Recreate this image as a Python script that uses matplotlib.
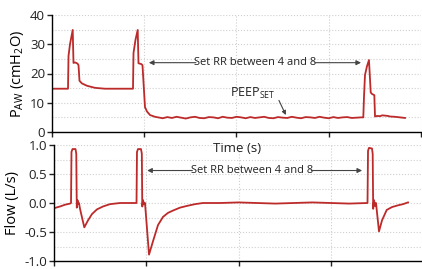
import matplotlib
matplotlib.use("Agg")
import matplotlib.pyplot as plt
from matplotlib.ticker import MultipleLocator, NullFormatter

plt.rcParams['font.family'] = ['Open Sans', 'DejaVu Sans']
plt.rcParams['mathtext.fontset'] = 'custom'
plt.rcParams['mathtext.rm'] = 'Open Sans'
plt.rcParams['mathtext.it'] = 'Open Sans'

# ---- Data ----
# Airway pressure (cmH2O) vs time (s)
p_time = [0.000, 0.347, 0.358, 0.390, 0.449, 0.466, 0.499, 0.553, 0.575, 0.596,
          0.650, 0.759, 0.932, 1.149, 1.756, 1.767, 1.810, 1.858, 1.875, 1.940,
          1.962, 2.016, 2.060, 2.125, 2.233,
          2.30, 2.40, 2.50, 2.60, 2.70, 2.80, 2.90, 3.00, 3.10, 3.20,
          3.30, 3.40, 3.50, 3.60, 3.70, 3.80, 3.90, 4.00, 4.10, 4.20,
          4.30, 4.40, 4.50, 4.60, 4.70, 4.80, 4.90, 5.00, 5.10, 5.20,
          5.30, 5.40, 5.50, 5.60, 5.70, 5.80, 5.90, 6.00, 6.10, 6.20,
          6.30, 6.40, 6.50, 6.60, 6.70,
          6.749, 6.764, 6.786, 6.829, 6.872, 6.910, 6.938, 6.988, 7.003, 7.050,
          7.111, 7.160, 7.220, 7.280, 7.328, 7.436, 7.545, 7.653]
p_vals = [14.8, 14.8, 26.0, 30.0, 34.9, 23.6, 23.8, 23.4, 22.8, 17.5,
          16.6, 15.8, 15.1, 14.8, 14.8, 27.0, 31.5, 34.9, 23.5, 23.2,
          22.8, 8.5, 7.0, 5.8, 5.2,
          5.0, 4.7, 5.1, 4.8, 5.2, 4.9, 4.6, 5.0, 5.2, 4.8,
          4.7, 5.1, 5.0, 4.7, 5.2, 4.9, 4.8, 5.2, 5.0, 4.7,
          5.1, 4.8, 5.0, 5.2, 4.8, 4.7, 5.1, 4.9, 4.8, 5.2,
          4.9, 4.7, 5.1, 5.0, 4.8, 5.2, 4.9, 4.7, 5.1, 4.8,
          5.0, 5.1, 4.8, 4.9, 5.0,
          5.0, 12.0, 19.5, 22.5, 24.6, 13.5, 13.0, 12.6, 5.3, 5.5,
          5.4, 5.7, 5.6, 5.5, 5.3, 5.2, 5.0, 4.8]

# Flow (L/s) vs time (s)
f_time = [0.000, 0.130, 0.238, 0.347, 0.369, 0.379, 0.401, 0.466, 0.483, 0.494,
          0.509, 0.527, 0.542, 0.564, 0.657, 0.737, 0.824, 0.932, 1.062, 1.214,
          1.431, 1.789, 1.799, 1.821, 1.886, 1.904, 1.914, 1.930, 1.951, 1.973,
          2.060, 2.146, 2.255, 2.363, 2.472, 2.580, 2.732, 2.883, 3.057, 3.230,
          3.60, 4.00, 4.40, 4.80, 5.20, 5.60, 6.00, 6.40, 6.797,
          6.808, 6.829, 6.894, 6.909, 6.920, 6.938, 6.959, 6.981, 7.046, 7.111,
          7.213, 7.328, 7.458, 7.566, 7.675]
f_vals = [-0.09, -0.06, -0.03, -0.01, 0.00, 0.88, 0.93, 0.93, 0.85, -0.08,
          0.05, -0.02, 0.00, -0.10, -0.42, -0.30, -0.19, -0.11, -0.06, -0.02,
          0.00, 0.00, 0.88, 0.93, 0.93, 0.85, -0.06, 0.05, -0.02, 0.00,
          -0.89, -0.66, -0.38, -0.24, -0.17, -0.13, -0.08, -0.05, -0.02, 0.00,
          0.00, 0.01, 0.00, -0.01, 0.00, 0.01, 0.00, -0.01, 0.00,
          0.90, 0.95, 0.94, 0.85, -0.10, 0.05, -0.05, 0.00, -0.49, -0.30,
          -0.12, -0.07, -0.04, -0.02, 0.01]

p_ticks = [0, 10, 20, 30, 40]
f_ticks = [-1.0, -0.5, 0.0, 0.5, 1.0]
t_ticks = [0, 2, 4, 6, 8]

annot_text = "Set RR between 4 and 8"
line_color = "#bd2a2a"
grid_color = "#cfcfcf"

W, H = 422, 269
fig = plt.figure(figsize=(W / 100, H / 100), dpi=100)

ax1 = fig.add_axes([52 / W, 1 - 132 / H, 369 / W, 117 / H])
ax2 = fig.add_axes([54 / W, 1 - 261 / H, 369 / W, 116 / H])

for ax in (ax1, ax2):
    ax.set_xlim(0, 8)
    ax.set_xticks(t_ticks)
    ax.xaxis.set_major_formatter(NullFormatter())
    ax.spines['top'].set_visible(False)
    ax.spines['right'].set_visible(False)
    ax.spines['left'].set_linewidth(1.0)
    ax.spines['bottom'].set_linewidth(1.0)
    ax.tick_params(axis='both', direction='out', length=3.5, width=1.0,
                   labelsize=9.5, pad=1.5, colors='#222222')
    ax.grid(True, which='both', axis='y', color=grid_color, linestyle=':', linewidth=0.8)
    ax.grid(True, which='major', axis='x', color=grid_color, linestyle=':', linewidth=0.8)
    ax.set_axisbelow(True)
    ax.patch.set_alpha(0)

# Top: pressure
ax1.plot(p_time, p_vals, color=line_color, lw=1.3, solid_joinstyle='round')
ax1.set_ylim(0, 40)
ax1.set_yticks(p_ticks)
ax1.yaxis.set_minor_locator(MultipleLocator(5))
ax1.tick_params(axis='y', which='minor', length=0)
ax1.set_ylabel("P$_{\\mathrm{AW}}$ (cmH$_{\\mathrm{2}}$O)", fontsize=10.5, labelpad=3)

fig.text(237 / W, 1 - 148 / H, "Time (s)", ha='center', va='center',
         fontsize=9.5, color='#222222', zorder=10)

ax1.text(4.41, 23.8, annot_text, ha='center', va='center', fontsize=8, color='#222222')
ax1.annotate("", xy=(2.10, 23.7), xytext=(3.12, 23.7),
             arrowprops=dict(arrowstyle='-|>', color='#444444', lw=0.8,
                             mutation_scale=7, shrinkA=0, shrinkB=0))
ax1.annotate("", xy=(6.70, 23.7), xytext=(5.70, 23.7),
             arrowprops=dict(arrowstyle='-|>', color='#444444', lw=0.8,
                             mutation_scale=7, shrinkA=0, shrinkB=0))
ax1.text(3.86, 13.3, "PEEP$_{\\mathrm{SET}}$", ha='left', va='center', fontsize=9, color='#222222')
ax1.annotate("", xy=(5.07, 5.8), xytext=(4.92, 10.8),
             arrowprops=dict(arrowstyle='-|>', color='#444444', lw=0.8,
                             mutation_scale=6, shrinkA=0, shrinkB=0))

# Bottom: flow
ax2.plot(f_time, f_vals, color=line_color, lw=1.3, solid_joinstyle='round')
ax2.set_ylim(-1.0, 1.0)
ax2.set_yticks(f_ticks)
ax2.set_yticklabels(["-1.0", "-0.5", "0.0", "0.5", "1.0"])
ax2.yaxis.set_minor_locator(MultipleLocator(0.25))
ax2.tick_params(axis='y', which='minor', length=0)
ax2.set_ylabel("Flow (L/s)", fontsize=10.5, labelpad=3)

ax2.text(4.29, 0.56, annot_text, ha='center', va='center', fontsize=8, color='#222222')
ax2.annotate("", xy=(2.02, 0.56), xytext=(3.00, 0.56),
             arrowprops=dict(arrowstyle='-|>', color='#444444', lw=0.8,
                             mutation_scale=7, shrinkA=0, shrinkB=0))
ax2.annotate("", xy=(6.68, 0.56), xytext=(5.58, 0.56),
             arrowprops=dict(arrowstyle='-|>', color='#444444', lw=0.8,
                             mutation_scale=7, shrinkA=0, shrinkB=0))

fig.savefig("out.png", dpi=100)
